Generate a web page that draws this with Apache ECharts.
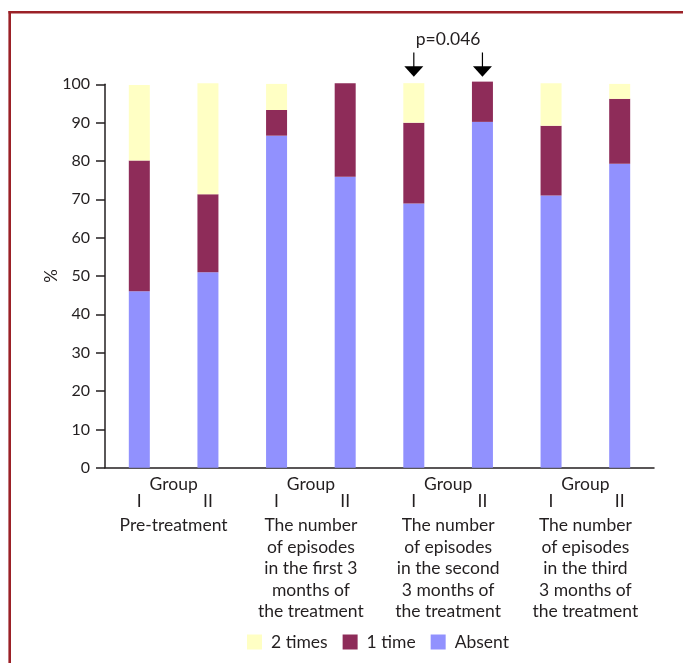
<!DOCTYPE html>
<html>
<head>
<meta charset="utf-8">
<script src="https://cdn.jsdelivr.net/npm/echarts@6/dist/echarts.min.js"></script>
<style>
  html, body { margin: 0; padding: 0; background: #ffffff; }
  #chart { width: 683px; height: 663px; }
</style>
</head>
<body>
<div id="chart"></div>
<script>
// ---- data ----
const periods = [
  'Pre-treatment',
  'The number\nof episodes\nin the first 3\nmonths of\nthe treatment',
  'The number\nof episodes\nin the second\n3 months of\nthe treatment',
  'The number\nof episodes\nin the third\n3 months of\nthe treatment'
];
const groupWord = 'Group';
const groups = ['I', 'II'];
const seriesNames = ['2 times', '1 time', 'Absent'];
// stacked segment heights (%), order: P-I, P-II, 1st-I, 1st-II, 2nd-I, 2nd-II, 3rd-I, 3rd-II
const absent   = [46.0, 51.0, 86.6, 75.9, 68.9, 90.2, 71.0, 79.3];
const oneTime  = [34.1, 20.3, 6.7, 24.4, 21.1, 10.5, 18.2, 16.9];
const twoTimes = [19.7, 29.0, 6.8, 0, 10.3, 0, 11.1, 3.9];
const yTicks = { min: 0, max: 100, interval: 10 };
const pText = 'p=0.046';
const pBars = [4, 5];          // compared bars (2nd 3 months, I vs II)

// ---- build ----
const categories = [];
periods.forEach((p, i) => groups.forEach(g => categories.push(i + '|' + g)));
const periodKeys = periods.map((p, i) => 'p' + i);

const FONT = 'Lato';
const TXT = '#231f20';
const FS = 17.5;
const colors = { '2 times': '#ffffc4', '1 time': '#8e2c59', 'Absent': '#9191fe' };

const chart = echarts.init(document.getElementById('chart'), null, { renderer: 'canvas' });

const barBase = { type: 'bar', stack: 'total', barWidth: 21, xAxisIndex: 0, yAxisIndex: 0, clip: false, emphasis: { disabled: true } };

chart.setOption({
  animation: false,
  backgroundColor: '#ffffff',
  textStyle: { fontFamily: FONT, color: TXT },
  grid: { left: 105, right: 29, top: 84.3, bottom: 195.3, containLabel: false },
  legend: {
    data: seriesNames,
    left: 247, top: 632, padding: 0,
    itemWidth: 15, itemHeight: 15, itemGap: 15,
    icon: 'rect',
    textStyle: { fontFamily: FONT, fontSize: FS, lineHeight: 20, color: TXT, padding: [0, 0, 0, 4] },
    selectedMode: false
  },
  xAxis: [
    {
      type: 'category', data: categories, position: 'bottom', gridIndex: 0,
      axisLine: { show: true, lineStyle: { color: TXT, width: 1.5 } },
      axisTick: { show: false },
      axisLabel: { interval: 0, margin: 24, fontSize: FS, lineHeight: 20, color: TXT, fontFamily: FONT,
        formatter: v => v.split('|')[1] }
    },
    {
      type: 'category', data: periodKeys, position: 'bottom', gridIndex: 0,
      axisLine: { show: false }, axisTick: { show: false },
      axisLabel: { interval: 0, margin: 6.5, fontSize: FS, lineHeight: 20, color: TXT, fontFamily: FONT,
        formatter: () => groupWord }
    },
    {
      type: 'category', data: periodKeys, position: 'bottom', gridIndex: 0,
      axisLine: { show: false }, axisTick: { show: false },
      axisLabel: { interval: 0, margin: 47, fontSize: FS, lineHeight: 21.5, color: TXT, fontFamily: FONT,
        formatter: (v) => periods[periodKeys.indexOf(v)] }
    }
  ],
  yAxis: {
    type: 'value', min: yTicks.min, max: yTicks.max, interval: yTicks.interval,
    name: '%', nameLocation: 'middle', nameGap: 45, nameMoveOverlap: false,
    nameTextStyle: { fontSize: 17, color: TXT, fontFamily: FONT },
    axisLine: { show: true, lineStyle: { color: TXT, width: 1.5 } },
    axisTick: { show: true, length: 9, lineStyle: { color: TXT, width: 1.5 } },
    axisLabel: { fontSize: 16, color: TXT, margin: 15, fontFamily: FONT },
    splitLine: { show: false }
  },
  series: [
    Object.assign({}, barBase, { name: 'Absent', data: absent, itemStyle: { color: colors['Absent'] } }),
    Object.assign({}, barBase, { name: '1 time', data: oneTime, itemStyle: { color: colors['1 time'] } }),
    Object.assign({}, barBase, { name: '2 times', data: twoTimes, itemStyle: { color: colors['2 times'] } })
  ]
});

// ---- annotations (positioned through the chart's own scales) ----
const finder = { xAxisIndex: 0, yAxisIndex: 0 };
const arrowTipVal = 102.0, arrowTopVal = 108.3, pTextVal = 111.6;
const els = [];
const xs = [];
pBars.forEach(i => {
  const tip = chart.convertToPixel(finder, [i, arrowTipVal]);
  const top = chart.convertToPixel(finder, [i, arrowTopVal]);
  xs.push(tip[0]);
  const headTop = tip[1] - 10.5;
  els.push({ type: 'line', shape: { x1: tip[0], y1: top[1], x2: tip[0], y2: headTop + 1 },
             style: { stroke: '#000', lineWidth: 1.2 } });
  els.push({ type: 'polygon', shape: { points: [[tip[0] - 9.5, headTop], [tip[0] + 9.5, headTop], [tip[0], tip[1]]] },
             style: { fill: '#000' } });
});
const tp = chart.convertToPixel(finder, [pBars[0], pTextVal]);
els.push({ type: 'text', x: (xs[0] + xs[1]) / 2, y: tp[1],
  style: { text: pText, fontSize: FS, fontFamily: FONT, fill: TXT, align: 'center', verticalAlign: 'middle' } });
// frame (top and left red rules)
els.push({ type: 'line', shape: { x1: 8.5, y1: 12.2, x2: 683, y2: 12.2 }, style: { stroke: '#9b2127', lineWidth: 2.6 } });
els.push({ type: 'line', shape: { x1: 9.7, y1: 11, x2: 9.7, y2: 663 }, style: { stroke: '#9b2127', lineWidth: 2.6 } });

chart.setOption({ graphic: { elements: els } });
</script>
</body>
</html>
